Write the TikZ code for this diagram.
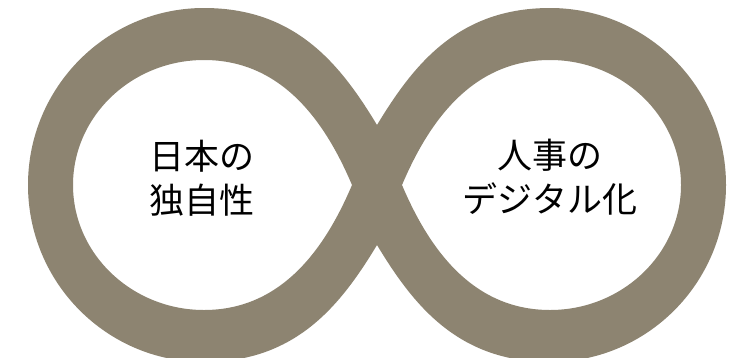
\documentclass[tikz,border=0pt]{standalone}
\usepackage{fontspec}
\newfontfamily\cjk{Noto Sans CJK JP}
\definecolor{ringcol}{RGB}{141,132,113}
\tikzset{
  ringband/.style={fill=ringcol, even odd rule},
  label/.style={align=center, font=\cjk\fontsize{35}{44}\selectfont, text=black, inner sep=0pt}
}
\begin{document}
\begin{tikzpicture}[x=1pt,y=-1pt]
\useasboundingbox (0,0) rectangle (741,357);
\fill[white] (0,0) rectangle (741,357);
\begin{scope}
\clip (0,0) rectangle (741,357);
\fill[ringband]
  (377,125) .. controls (340.6,64.8) and (296,8) .. (204,8)
   .. controls (107,8) and (28,87) .. (28,185)
   .. controls (28,283) and (107,362) .. (204,362)
   .. controls (296,362) and (340.6,305.2) .. (377,245)
   .. controls (413.4,305.2) and (458,362) .. (550,362)
   .. controls (647,362) and (726,283) .. (726,185)
   .. controls (726,87) and (647,8) .. (550,8)
   .. controls (458,8) and (413.4,64.8) .. cycle
  (352,185) .. controls (326.6,125.2) and (284,60) .. (204,60)
   .. controls (132,60) and (73,116) .. (73,185)
   .. controls (73,254) and (132,310) .. (204,310)
   .. controls (284,310) and (326.6,244.8) .. cycle
  (402,185) .. controls (427.4,125.2) and (470,60) .. (550,60)
   .. controls (622,60) and (681,116) .. (681,185)
   .. controls (681,254) and (622,310) .. (550,310)
   .. controls (470,310) and (427.4,244.8) .. cycle;
\end{scope}
\node[label] (left) at (202,178) {日本の\\独自性};
\node[label] (right) at (550,177) {人事の\\デジタル化};
\end{tikzpicture}
\end{document}
